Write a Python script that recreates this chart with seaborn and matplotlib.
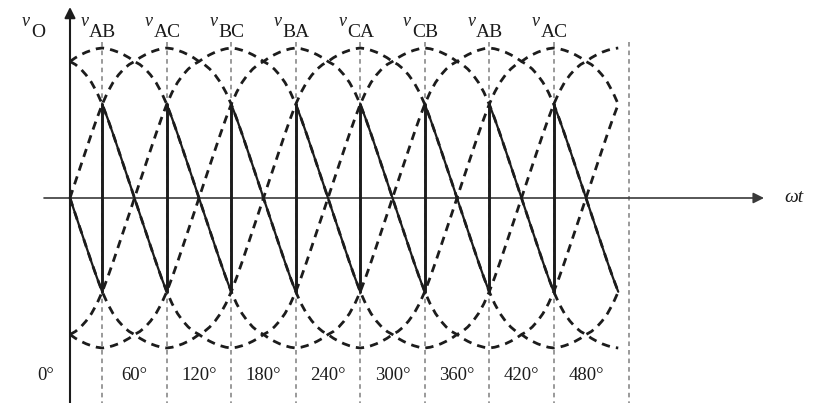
import numpy as np
import pandas as pd
import matplotlib
matplotlib.use("Agg")
import matplotlib.pyplot as plt
import seaborn as sns

# Quarter-wave profile of a line-to-line voltage (per unit of peak),
# from the zero crossing (0 deg) up to the peak (90 deg), every 5 deg.
quarter_deg = [0, 5, 10, 15, 20, 25, 30, 35, 40, 45, 50, 55, 60, 65, 70, 75, 80, 85, 90]
quarter_val = [0.0, 0.108, 0.215, 0.322, 0.428, 0.53, 0.625, 0.705, 0.77, 0.82,
               0.86, 0.89, 0.91, 0.935, 0.955, 0.972, 0.985, 0.995, 1.0]

# Peak positions (deg) of the line voltages and their names
peak_deg = [30, 90, 150, 210, 270, 330, 390, 450]
peak_names = ["AB", "AC", "BC", "BA", "CA", "CB", "AB", "AC"]

# Firing instants (deg): the output jumps to the next line voltage here
firing_deg = [30, 90, 150, 210, 270, 330, 390, 450]

# Angle labels under the axis
tick_deg = [0, 60, 120, 180, 240, 300, 360, 420, 480]
tick_labels = ["0°", "60°", "120°", "180°", "240°", "300°", "360°", "420°", "480°"]

wave_start, wave_end, frame_end = 0, 510, 520
step = quarter_deg[1] - quarter_deg[0]

INK = "#1c1c1c"
GUIDE = "#7e7e7e"


def line_voltage(theta, peak):
    """Per-unit value of a line voltage peaking at `peak`, at angles `theta`."""
    theta = np.asarray(theta, dtype=float)
    d = np.abs(((theta - peak + 180) % 360) - 180)   # distance from the peak
    u = 90 - d                                        # offset from zero crossing
    idx = np.rint(np.abs(u) / step).astype(int)
    return np.sign(u) * np.asarray(quarter_val)[idx]


sns.set_theme(style="white")
plt.rcParams["font.family"] = ["Liberation Serif", "DejaVu Serif"]

fig = plt.figure(figsize=(8.16, 4.03), dpi=100)
ax = fig.add_axes([0, 0, 1, 1])

# pixel layout helpers: x in degrees, y in per-unit
X0, XS, Y0, YS = 70.0, 1.075, 198.0, 150.0
def gx(px):
    return (px - X0) / XS
def gy(py):
    return (Y0 - py) / YS

ax.set_xlim(gx(0), gx(816))
ax.set_ylim(gy(403), gy(0))
ax.axis("off")

# guide lines at each peak and at the end of the interval
for a in peak_deg + [frame_end]:
    ax.plot([a, a], [gy(42), gy(403)], color=GUIDE, lw=1.1,
            linestyle=(0, (3, 2.6)), zorder=1)

# the six line voltages, dashed
theta = np.arange(wave_start, wave_end + step, step)
for p in peak_deg[:6]:
    sns.lineplot(x=theta, y=line_voltage(theta, p), ax=ax, color=INK,
                 lw=2.0, linestyle=(0, (3.0, 2.2)), zorder=3, legend=False)

# output voltage: 60-degree pieces of successive line voltages
starts = [firing_deg[0] - 60] + firing_deg
for s in starts:
    a0, a1 = max(s, wave_start), min(s + 60, wave_end)
    seg = np.arange(a0, a1 + step, step)
    sns.lineplot(x=seg, y=line_voltage(seg, s - 60), ax=ax, color=INK,
                 lw=1.6, zorder=4, legend=False)

# vertical jumps at the firing instants
for f in firing_deg:
    lo = line_voltage([f], f - 120)[0]
    hi = line_voltage([f], f - 60)[0]
    ax.plot([f, f], [lo, hi], color=INK, lw=2.1, zorder=4)

# axes with arrows
ax.annotate("", xy=(0, gy(7)), xytext=(0, gy(403)),
            arrowprops=dict(arrowstyle="-|>", color=INK, lw=1.5,
                            mutation_scale=16, shrinkA=0, shrinkB=0), zorder=5)
ax.annotate("", xy=(gx(764), 0), xytext=(gx(44), 0),
            arrowprops=dict(arrowstyle="-|>", color="#3a3a3a", lw=1.2,
                            mutation_scale=16, shrinkA=0, shrinkB=0), zorder=2)

# axis names
ax.text(gx(22), gy(26), "v", fontsize=13, style="italic", color=INK,
        ha="left", va="baseline")
ax.text(gx(31), gy(37), "O", fontsize=14, color=INK, ha="left", va="baseline")
ax.text(gx(784), gy(197), "ωt", fontsize=14, style="italic", color=INK,
        ha="left", va="center")

# names of the line voltages above their peaks
for a, name in zip(peak_deg, peak_names):
    xp = X0 + XS * a
    ax.text(gx(xp - 22), gy(26), "v", fontsize=13, style="italic", color=INK,
            ha="left", va="baseline")
    ax.text(gx(xp - 13), gy(37), name, fontsize=14, color=INK,
            ha="left", va="baseline")

# angle labels
for a, lab in zip(tick_deg, tick_labels):
    xpos = gx(46) if a == 0 else a
    ax.text(xpos, gy(376), lab, fontsize=13.5, color=INK,
            ha="center", va="center")

fig.savefig("out.png", dpi=100, facecolor="white")
